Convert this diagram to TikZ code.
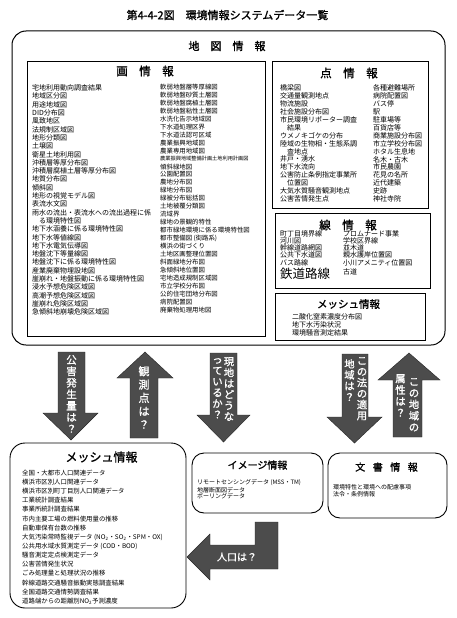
\documentclass[tikz,border=0pt]{standalone}
\usepackage{fontspec}
\setmainfont{Noto Sans CJK JP}
\newfontfamily\jpbold[FakeBold=1.2]{Noto Sans CJK JP}
\begin{document}
\begin{tikzpicture}[x=1pt,y=-1pt,
  lst/.style={anchor=west,inner sep=0pt,font=\fontsize{7}{8}\selectfont},
  lstR/.style={lst,font=\fontsize{6.4}{7}\selectfont},
  lstS/.style={lst,font=\fontsize{6.4}{7}\selectfont},
  lstT/.style={lst,font=\fontsize{6}{7}\selectfont},
  ttl/.style={inner sep=0pt,font=\jpbold\fontsize{11.5}{12}\selectfont},
  sbox/.style={draw,line width=0.9pt},
  rbox/.style={draw,line width=0.9pt,rounded corners=12pt},
  barrow/.style={fill=black!70,draw=black!85,line width=0.4pt},
  vtext/.style={text=white,align=center,inner sep=0pt,anchor=north,font=\jpbold\fontsize{10.5}{11.5}\selectfont}]
\fill[white] (0,0) rectangle (457,618);
\path[use as bounding box] (0,0) rectangle (457,618);

% title
\node[inner sep=0pt,font=\jpbold\fontsize{11}{12}\selectfont] (title) at (227.5,15) {第4-4-2図　環境情報システムデータ一覧};

% outer map box
\draw[line width=1pt,rounded corners=14pt] (12,31) rectangle (445,345);
\node[ttl,font=\jpbold\fontsize{11}{12}\selectfont] (mapt) at (227,46) {地　図　情　報};

% area info
\draw[sbox] (27,61) rectangle (265,336);
\node[ttl] (areat) at (145,71) {画　情　報};
\foreach \txt [count=\i from 0] in {宅地利用動向調査結果, 地域区分図, 用途地域図, DID分布図, 風致地区, 法規制区域図, 地形分類図, 土壌図, 衛星土地利用図, 沖積層等厚分布図, 沖積層腐植土層等厚分布図, 地質分布図, 傾斜図, 地形の視覚モデル図, 表流水文図, 雨水の流出・表流水への流出過程に係, 　る環境特性図, 地下水涵養に係る環境特性図, 地下水等値線図, 地下水電気伝導図, 地盤沈下等量線図, 地盤沈下に係る環境特性図, 産業廃棄物埋設地図, 崖崩れ・地盤振動に係る環境特性図, 浸水予想危険区域図, 高潮予想危険区域図, 崖崩れ危険区域図, 急傾斜地崩壊危険区域図}
  \node[lst] (ga\i) at (32,{88+8.3*\i}) {\txt};
\foreach \txt [count=\i from 0] in {軟弱地盤層等厚線図, 軟弱地盤砂質土層図, 軟弱地盤腐植土層図, 軟弱地盤粘性土層図, 水洗化告示地域図, 下水道処理区界, 下水道法認可区域, 農業振興地域図, 農業専用地域図, {\fontsize{5.2}{6}\selectfont 農業振興地域整備計画土地利用計画図}, 傾斜緑地図, 公園配置図, 農地分布図, 緑地分布図, 緑被分布総括図, 土地被覆分類図, 流域界, 緑地の景観的特性, 都市緑地環境に係る環境特性図, 都市整備図 (街路系), 横浜の街づくり, 土地区画整理位置図, 斜面緑地分布図, 急傾斜地位置図, 宅地造成規制区域図, 市立学校分布図, 公的住宅団地分布図, 病院配置図, 廃棄物処理用地図}
  \node[lstR] (gb\i) at (160,{87+7.96*\i}) {\txt};

% point info
\draw[sbox] (272,61) rectangle (428,208);
\node[ttl] (ptt) at (349,73) {点　情　報};
\foreach \txt [count=\i from 0] in {橋梁図, 交通量観測地点, 物流施設, 社会施設分布図, 市民環境リポーター調査, 　結果, ウメノキゴケの分布, 陸域の生物相・生態系調, 　査地点, 井戸・湧水, 地下水流向, 公害防止条例指定事業所, 　位置図, 大気水質騒音観測地点, 公害苦情発生点}
  \node[lst] (pa\i) at (280,{88+7.93*\i}) {\txt};
\foreach \txt [count=\i from 0] in {各種避難場所, 病院配置図, バス停, 駅, 駐車場等, 百貨店等, 商業施設分布図, 市立学校分布図, ホタル生息地, 名木・古木, 市民農園, 花見の名所, 近代建築, 史跡, 神社寺院}
  \node[lst] (pb\i) at (373,{88+7.93*\i}) {\txt};

% line info
\draw[sbox] (275,213) rectangle (430,288);
\node[ttl] (lnt) at (348,225) {線　情　報};
\foreach \txt [count=\i from 0] in {町丁目境界線, 河川図, 幹線道路網図, 公共下水道図, バス路線}
  \node[lst] (la\i) at (280,{234+7.1*\i}) {\txt};
\node[lst,font=\fontsize{12.5}{13}\selectfont] (la5) at (280,273.5) {鉄道路線};
\foreach \txt [count=\i from 0] in {プロムナード事業, 学校区界線, 並木道, 親水護岸位置図, 小川アメニティ位置図}
  \node[lst] (lb\i) at (343,{234+7.1*\i}) {\txt};
\node[lst] (lb5) at (343,272) {古道};

% mesh info (top)
\draw[sbox] (275,293) rectangle (425,340);
\node[ttl,font=\jpbold\fontsize{10.5}{11}\selectfont] (mst) at (348.5,304) {メッシュ情報};
\foreach \txt [count=\i from 0] in {二酸化窒素濃度分布図, 地下水汚染状況, 環境騒音測定結果}
  \node[lst] (ma\i) at (292,{317+8*\i}) {\txt};

% big arrows
\draw[barrow] (58,352) -- (85,352) -- (85,413) -- (98,413) -- (71,440) -- (43,413) -- (58,413) -- cycle;
\node[vtext] (q1) at (71.5,355) {公\\害\\発\\生\\量\\は\\？};
\draw[barrow] (145,352) -- (173,378) -- (158,378) -- (158,438) -- (130,438) -- (130,378) -- (117,378) -- cycle;
\node[vtext,font=\jpbold\fontsize{11}{13.3}\selectfont] (q2) at (144,366) {観\\測\\点\\は\\？};
\draw[barrow] (210,353) -- (237,353) -- (237,415) -- (250,415) -- (223.5,442) -- (197,415) -- (210,415) -- cycle;
\node[vtext,font=\jpbold\fontsize{10.3}{11}\selectfont] (q3a) at (229,357) {現\\地\\は\\ど\\う\\な};
\node[vtext,font=\jpbold\fontsize{10.3}{11}\selectfont] (q3b) at (217.5,358) {っ\\て\\い\\る\\か\\？};
\draw[barrow] (342,354) -- (368,354) -- (368,417) -- (382,417) -- (354.5,443) -- (327,417) -- (342,417) -- cycle;
\node[vtext,font=\jpbold\fontsize{10.3}{11}\selectfont] (q4a) at (362,357) {こ\\の\\法\\の\\適\\用};
\node[vtext,font=\jpbold\fontsize{10.3}{11}\selectfont] (q4b) at (349.5,359) {地\\域\\は\\？};
\draw[barrow] (409,353) -- (440,380) -- (422,380) -- (422,437) -- (393,437) -- (393,380) -- (378,380) -- cycle;
\node[vtext,font=\jpbold\fontsize{10.3}{11.4}\selectfont] (q5a) at (414,378) {こ\\の\\地\\域\\の};
\node[vtext,font=\jpbold\fontsize{10.3}{11.4}\selectfont] (q5b) at (400.5,374) {属\\性\\は\\？};

% bottom mesh info
\draw[rbox,rounded corners=15pt] (10,443) rectangle (186,608);
\node[ttl,font=\jpbold\fontsize{12}{12}\selectfont] (mbt) at (101.5,457) {メッシュ情報};
\foreach \txt [count=\i from 0] in {全国・大都市人口関連データ, 横浜市区別人口関連データ, 横浜市区別町丁目別人口関連データ, 工業統計調査結果, 事業所統計調査結果, 市内主要工場の燃料使用量の推移, 自動車保有台数の推移, 大気汚染常時監視データ (NO\textsubscript{2}・SO\textsubscript{2}・SPM・OX), 公共用水域水質測定データ (COD・BOD), 騒音測定定点検測定データ, 公害苦情発生状況, ごみ処理量と処理状況の推移, 幹線道路交通騒音振動実態調査結果, 全国道路交通情勢調査結果, 道路端からの距離別NO\textsubscript{2}予測濃度}
  \node[lstS] (mb\i) at (22,{473+9.14*\i}) {\txt};

% image info
\draw[rbox] (192,453) rectangle (323,513);
\node[ttl,font=\jpbold\fontsize{10}{10}\selectfont] (imt) at (257.5,465) {イメージ情報};
\foreach \txt [count=\i from 0] in {リモートセンシングデータ (MSS・TM), 地層断面図データ, ボーリングデータ}
  \node[lstT] (im\i) at (197,{483+6.8*\i}) {\txt};

% document info
\draw[rbox] (328,453) rectangle (447,518);
\node[ttl,font=\jpbold\fontsize{10}{10}\selectfont] (doct) at (386.5,467) {文\hspace{0.75em}書\hspace{0.75em}情\hspace{0.75em}報};
\node[lstT] (dc0) at (333,487) {環境特性と環境への配慮事項};
\node[lstT] (dc1) at (333,494) {法令・条例情報};

% L-shaped arrow
\draw[barrow] (187,557) -- (210,534) -- (210,545) -- (255,545) -- (255,522) -- (278,522) -- (278,569) -- (210,569) -- (210,580) -- cycle;
\node[text=white,inner sep=0pt,font=\jpbold\fontsize{10}{10}\selectfont] (q6) at (237,557) {人口は？};
\end{tikzpicture}
\end{document}
